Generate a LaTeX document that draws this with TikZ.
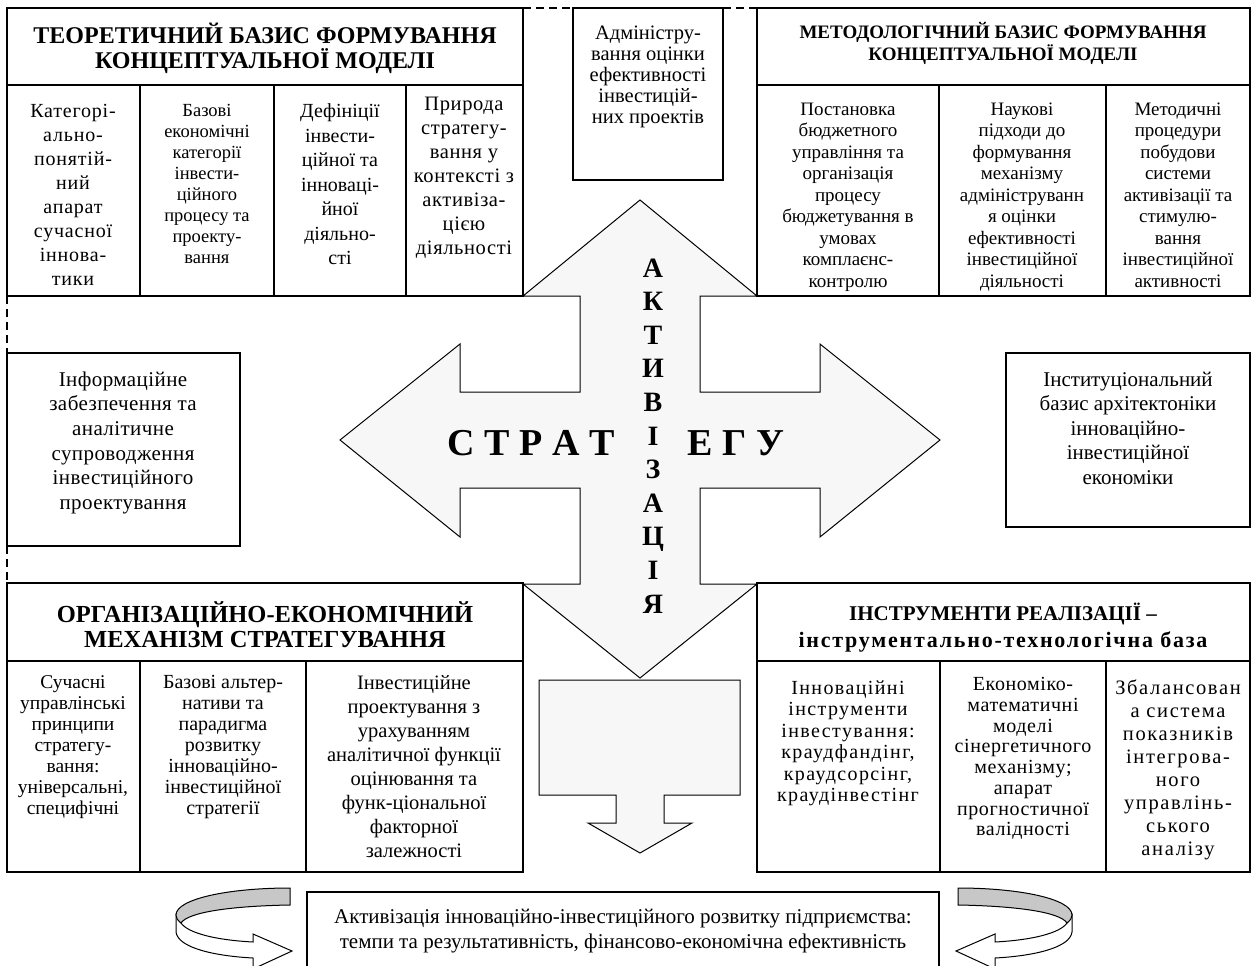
\documentclass[tikz,border=0pt]{standalone}
\usepackage{fontspec}
\setmainfont{Liberation Serif}
\usetikzlibrary{positioning}

\newcommand{\setfs}[2]{\fontsize{#1}{#2}\selectfont}
\newcommand{\spaced}[1]{\addfontfeatures{LetterSpace=#1}}

\begin{document}
\begin{tikzpicture}[x=1pt, y=-1pt, line width=1.3pt, line join=miter,
  cell/.style={align=center, inner sep=0pt, anchor=north},
  gap/.style={dash pattern=on 8pt off 5pt},
  bigarrow/.style={draw, line width=1pt, fill=black!3},
  band/.style={draw, line width=1pt, fill=black!22},
  frontband/.style={draw, line width=1pt, fill=white}]

\useasboundingbox (0,0) rectangle (1251,966);

% cross of the strategy
\draw [bigarrow] (640,200) -- (757,296) -- (700,296) -- (700,392) -- (820,392)
  -- (820,344) -- (940,440) -- (820,537) -- (820,488) -- (700,488) -- (700,584)
  -- (757,584) -- (640,678) -- (523,584) -- (580,584) -- (580,488) -- (460,488)
  -- (460,537) -- (340,440) -- (460,344) -- (460,392) -- (580,392) -- (580,296)
  -- (523,296) -- cycle;

\node [font=\bfseries\setfs{38}{40}, inner sep=0pt] (strat-l) at (531,443) {С Т Р А Т};
\node [font=\bfseries\setfs{38}{40}, inner sep=0pt] (strat-r) at (736,443) {Е Г У};
\node [cell, font=\bfseries\setfs{28}{33.6}] (activ) at (653,258)
  {А\\К\\Т\\И\\В\\І\\З\\А\\Ц\\І\\Я};

% down arrow to the result
\draw [bigarrow] (539,680) -- (740,680) -- (740,795) -- (664,795) -- (664,823)
  -- (692,823) -- (640,853) -- (588,823) -- (616,823) -- (616,795) -- (539,795) -- cycle;

% theoretical basis
\draw (7,8) rectangle (523,296);
\draw (7,85) -- (523,85);
\foreach \x in {140,274,406}
  \draw (\x,85) -- (\x,296);
\node [cell, font=\bfseries\setfs{24}{25}] (theory) at (265,22)
  {ТЕОРЕТИЧНИЙ БАЗИС ФОРМУВАННЯ\\КОНЦЕПТУАЛЬНОЇ МОДЕЛІ};
\foreach \txt/\xc/\yt/\fsz/\lsk/\ls [count=\i] in {
    {Категорі-\\ально-\\понятій-\\ний\\апарат\\сучасної\\іннова-\\тики}/73/104/20/24/4,
    {Базові\\економічні\\категорії\\інвести-\\ційного\\процесу та\\проекту-\\вання}/207/104/18.5/21/0,
    {Дефініції\\інвести-\\ційної та\\інноваці-\\йної\\діяльно-\\сті}/340/103/20/24.5/0,
    {Природа\\стратегу-\\вання у\\контексті з\\активіза-\\цією\\діяльності}/464/96/20.5/24/3}
  \node [cell, font=\setfs{\fsz}{\lsk}\spaced{\ls}] (theory-\i) at (\xc,\yt) {\txt};

% administration box
\draw [gap] (523,8) -- (573,8);
\draw [gap] (723,8) -- (757,8);
\draw (573,8) rectangle (723,180);
\node [cell, font=\setfs{20.5}{21}] (admin) at (648,25)
  {Адміністру-\\вання оцінки\\ефективності\\інвестицій-\\них проектів};

% methodological basis
\draw (757,8) rectangle (1250,296);
\draw (757,85) -- (1250,85);
\foreach \x in {939,1106}
  \draw (\x,85) -- (\x,296);
\node [cell, font=\bfseries\setfs{19}{22}] (method) at (1003,22)
  {МЕТОДОЛОГІЧНИЙ БАЗИС ФОРМУВАННЯ\\КОНЦЕПТУАЛЬНОЇ МОДЕЛІ};
\foreach \txt/\xc [count=\i] in {
    {Постановка\\бюджетного\\управління та\\організація\\процесу\\бюджетування в\\умовах\\комплаєнс-\\контролю}/848,
    {Наукові\\підходи до\\формування\\механізму\\адмініструванн\\я оцінки\\ефективності\\інвестиційної\\діяльності}/1022,
    {Методичні\\процедури\\побудови\\системи\\активізації та\\стимулю-\\вання\\інвестиційної\\активності}/1178}
  \node [cell, font=\setfs{19}{21.5}] (method-\i) at (\xc,102) {\txt};

% information and institutional boxes
\draw [gap] (7,296) -- (7,353);
\draw [gap] (7,546) -- (7,583);
\draw (7,353) rectangle (240,546);
\node [cell, font=\setfs{21}{24.6}\spaced{2}] (info) at (123,371)
  {Інформаційне\\забезпечення та\\аналітичне\\супроводження\\інвестиційного\\проектування};
\draw (1006,353) rectangle (1250,527);
\node [cell, font=\setfs{21}{24.6}] (inst) at (1128,371)
  {Інституціональний\\базис архітектоніки\\інноваційно-\\інвестиційної\\економіки};

% organisational and economic mechanism
\draw (7,583) rectangle (523,872);
\draw (7,661) -- (523,661);
\foreach \x in {140,306}
  \draw (\x,661) -- (\x,872);
\node [cell, font=\bfseries\setfs{24.5}{25}] (mech) at (265,601)
  {ОРГАНІЗАЦІЙНО-ЕКОНОМІЧНИЙ\\МЕХАНІЗМ СТРАТЕГУВАННЯ};
\foreach \txt/\xc/\yt/\fsz/\lsk/\ls [count=\i] in {
    {Сучасні\\управлінські\\принципи\\стратегу-\\вання:\\універсальні,\\специфічні}/73/675/19.5/21/0,
    {Базові альтер-\\нативи та\\парадигма\\розвитку\\інноваційно-\\інвестиційної\\стратегії}/223/675/20/21/0,
    {Інвестиційне\\проектування з\\урахуванням\\аналітичної функції\\оцінювання та\\функ-ціональної\\факторної\\залежності}/414/675/20.5/24/0}
  \node [cell, font=\setfs{\fsz}{\lsk}\spaced{\ls}] (mech-\i) at (\xc,\yt) {\txt};

% tools of realisation
\draw (757,583) rectangle (1250,872);
\draw (757,661) -- (1250,661);
\foreach \x in {940,1106}
  \draw (\x,661) -- (\x,872);
\node [cell, font=\bfseries\setfs{21}{27}] (tools) at (1003,602)
  {ІНСТРУМЕНТИ РЕАЛІЗАЦІЇ –\\{\fontsize{22}{27}\selectfont\spaced{8}інструментально-технологічна база}};
\foreach \txt/\xc/\yt/\fsz/\lsk/\ls [count=\i] in {
    {Інноваційні\\інструменти\\інвестування:\\краудфандінг,\\краудсорсінг,\\краудінвестінг}/848/680/20/21.5/7,
    {Економіко-\\математичні\\моделі\\сінергетичного\\механізму;\\апарат\\прогностичної\\валідності}/1023/677/20/20.7/3,
    {Збалансован\\а система\\показників\\інтегрова-\\ного\\управлінь-\\ського\\аналізу}/1178/679/20.5/23/8}
  \node [cell, font=\setfs{\fsz}{\lsk}\spaced{\ls}] (tools-\i) at (\xc,\yt) {\txt};

% result
\draw (307,970) -- (307,892) -- (939,892) -- (939,970);
\node [cell, font=\setfs{21}{25}] (result) at (623,908)
  {Активізація  інноваційно-інвестиційного  розвитку підприємства:\\темпи та результативність, фінансово-економічна  ефективність};

% curved arrows round the result
\foreach \sx/\dx in {1/0, -1/1248} {
  \begin{scope}[xshift=\dx pt, xscale=\sx]
    \draw [frontband] (176,915) -- (176,932) .. controls (178,948) and (215,956) .. (253,958)
      -- (253,969) -- (292,951) -- (253,934) -- (253,942)
      .. controls (215,940) and (188,933) .. (181,923) -- cycle;
    \draw [band] (290,888) -- (290,905) .. controls (232,906) and (188,912) .. (181,923)
      .. controls (177,920) and (176,917) .. (176,915)
      .. controls (176,899) and (228,888) .. (290,888) -- cycle;
  \end{scope}
}

\end{tikzpicture}
\end{document}
